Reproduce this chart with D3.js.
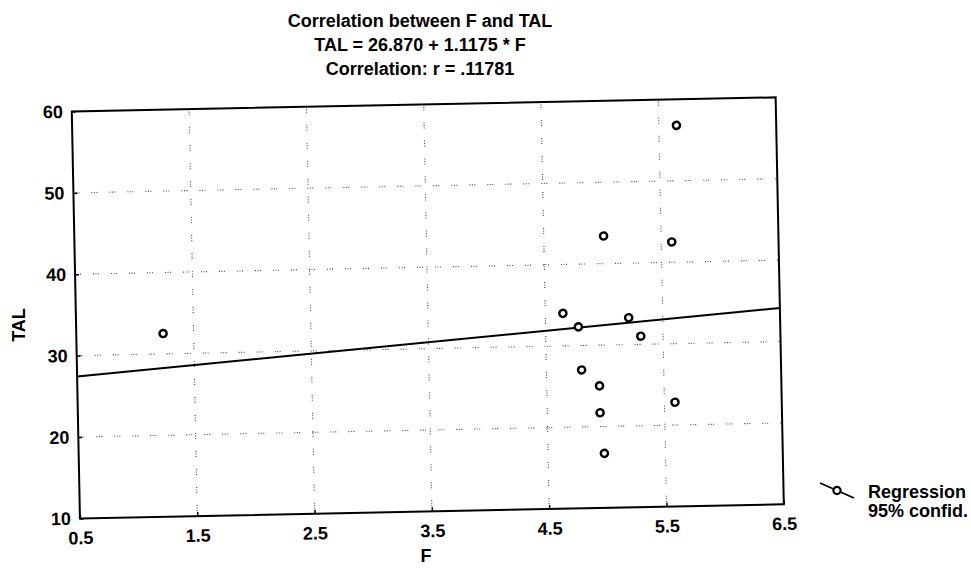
<!DOCTYPE html>
<html>
<head>
<meta charset="utf-8">
<script src="https://cdn.jsdelivr.net/npm/d3@7"></script>
<style>
	body { margin: 0; background: #fff; }
	text { font-family: "Liberation Sans", Arial, sans-serif; font-weight: bold; fill: #000; }
</style>
</head>
<body>
<div class="graph-box"></div>
<script>
// values
var fValues   = [1.24, 4.65, 4.78, 4.80, 4.95, 4.95, 4.98, 5.01, 5.21, 5.31, 5.59, 5.59, 5.65];
var talValues = [32.5, 34.0, 32.3, 27.0, 25.0, 21.7, 16.7, 43.4, 33.3, 31.0, 42.5, 22.8, 56.8];

var xTicks = [0.5, 1.5, 2.5, 3.5, 4.5, 5.5, 6.5];
var yTicks = [10, 20, 30, 40, 50, 60];
var xGrid = [1.5, 2.5, 3.5, 4.5, 5.5];
var yGrid = [20, 30, 40, 50];

// regression from the title
var intercept = 26.870;
var slope = 1.1175;

var titleLines = ["Correlation between F and TAL", "TAL = 26.870 + 1.1175 * F", "Correlation: r = .11781"];
var legendLabels = ["Regression", "95% confid."];

$ready();

function $ready() {
	var width = 971, height = 575;
	var left = 75.8, top = 104.4, plotW = 704, plotH = 407;
	var cx = left + plotW / 2, cy = top + plotH / 2;
	var skew = -1.15; // the scan is tilted a little

	var svg = d3.select(".graph-box")
			.append("svg")
			.attr("width", width)
			.attr("height", height);

	// titles
	svg.selectAll(".title")
			.data(titleLines)
			.enter()
			.append("text")
			.attr("class", "title")
			.attr("x", 420)
			.attr("y", function(d, i) { return 26.5 + i * 24.3; })
			.attr("text-anchor", "middle")
			.style("font-size", "18px")
			.text(function(d) { return d; });

	var g = svg.append("g")
			.attr("transform", "rotate(" + skew + "," + cx + "," + cy + ") translate(" + left + "," + top + ")");

	var x = d3.scaleLinear().domain([0.5, 6.5]).range([0, plotW]);
	var y = d3.scaleLinear().domain([10, 60]).range([plotH, 0]);

	// dotted grid
	g.selectAll(".vgrid")
			.data(xGrid)
			.enter()
			.append("line")
			.attr("x1", function(d) { return x(d); })
			.attr("x2", function(d) { return x(d); })
			.attr("y1", 0)
			.attr("y2", plotH)
			.attr("stroke", "#444")
			.attr("stroke-width", 1.1)
			.attr("stroke-dasharray", "1,1.5,1,1.5,1,12");
	g.selectAll(".hgrid")
			.data(yGrid)
			.enter()
			.append("line")
			.attr("x1", 0)
			.attr("x2", plotW)
			.attr("y1", function(d) { return y(d); })
			.attr("y2", function(d) { return y(d); })
			.attr("stroke", "#444")
			.attr("stroke-width", 1.1)
			.attr("stroke-dasharray", "1,1.5,1,1.5,1,12");

	var xAxis = g.append("g")
			.attr("transform", "translate(0," + plotH + ")")
			.call(d3.axisBottom(x).tickValues(xTicks).tickSizeInner(-4).tickSizeOuter(0)
				.tickPadding(13).tickFormat(d3.format(".1f")));
	var yAxis = g.append("g")
			.call(d3.axisLeft(y).tickValues(yTicks).tickSizeInner(-4).tickSizeOuter(0).tickPadding(9));
	[xAxis, yAxis].forEach(function(a) {
		a.select(".domain").remove();
		a.attr("font-family", null).attr("font-size", null);
		a.selectAll("text").style("font-size", "18px");
		a.selectAll("line").attr("stroke", "#000").attr("stroke-width", 1.5);
	});

	// regression line
	g.append("line")
			.attr("x1", x(0.5))
			.attr("y1", y(intercept + slope * 0.5))
			.attr("x2", x(6.5))
			.attr("y2", y(intercept + slope * 6.5))
			.attr("stroke", "#000")
			.attr("stroke-width", 2);

	var points = fValues.map(function(f, i) { return [f, talValues[i]]; });
	g.selectAll(".pt")
			.data(points)
			.enter()
			.append("circle")
			.attr("class", "pt")
			.attr("cx", function(d) { return x(d[0]); })
			.attr("cy", function(d) { return y(d[1]); })
			.attr("r", 3.6)
			.attr("fill", "#fff")
			.attr("stroke", "#000")
			.attr("stroke-width", 2.4);

	// frame
	g.append("rect")
			.attr("width", plotW)
			.attr("height", plotH)
			.attr("fill", "none")
			.attr("stroke", "#000")
			.attr("stroke-width", 2);

	// axis titles
	svg.append("text")
			.attr("x", 426)
			.attr("y", 562)
			.attr("text-anchor", "middle")
			.style("font-size", "18px")
			.text("F");
	svg.append("text")
			.attr("transform", "translate(25,325) rotate(-90)")
			.attr("text-anchor", "middle")
			.style("font-size", "18px")
			.text("TAL");

	// legend
	var legend = svg.append("g").attr("transform", "translate(820,483)");
	legend.append("line")
			.attr("x1", 0).attr("y1", 0)
			.attr("x2", 34).attr("y2", 15)
			.attr("stroke", "#000")
			.attr("stroke-width", 1.8);
	legend.append("circle")
			.attr("cx", 17).attr("cy", 7.5)
			.attr("r", 3.6)
			.attr("fill", "#fff")
			.attr("stroke", "#000")
			.attr("stroke-width", 2.2);
	legend.selectAll(".lg")
			.data(legendLabels)
			.enter()
			.append("text")
			.attr("x", 48)
			.attr("y", function(d, i) { return 15 + i * 19; })
			.style("font-size", "18px")
			.text(function(d) { return d; });
}
</script>
</body>
</html>
